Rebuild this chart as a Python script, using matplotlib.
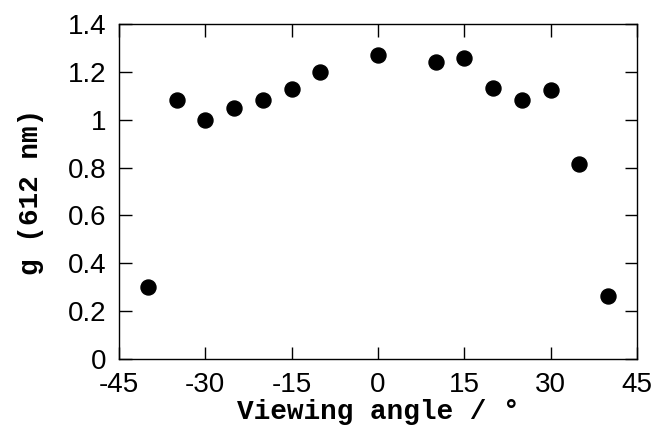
import matplotlib.pyplot as plt

# Viewing-angle dependence of g at 612 nm
angles = [-40, -35, -30, -25, -20, -15, -10, 0, 10, 15, 20, 25, 30, 35, 40]
g_values = [0.30, 1.084, 1.00, 1.051, 1.084, 1.13, 1.20, 1.272, 1.241, 1.259,
            1.133, 1.084, 1.123, 0.813, 0.264]

x_ticks = [-45, -30, -15, 0, 15, 30, 45]
y_ticks = [0, 0.2, 0.4, 0.6, 0.8, 1.0, 1.2, 1.4]
y_ticklabels = ['0', '0.2', '0.4', '0.6', '0.8', '1', '1.2', '1.4']

fig = plt.figure(figsize=(6.66, 4.32), dpi=100)
ax = fig.add_axes([119 / 666, 1 - 359 / 432, (637 - 119) / 666, (359 - 24) / 432])

ax.plot(angles, g_values, 'o', color='black', markersize=10.8, linestyle='none')

ax.set_xlim(-45, 45)
ax.set_ylim(0, 1.4)
ax.set_xticks(x_ticks)
ax.set_xticklabels([str(t) for t in x_ticks])
ax.set_yticks(y_ticks)
ax.set_yticklabels(y_ticklabels)

ax.tick_params(direction='in', length=9, width=1, top=True, right=True,
               labelsize=20)
ax.tick_params(axis='x', pad=9)
ax.tick_params(axis='y', pad=9)
for lbl in ax.get_xticklabels() + ax.get_yticklabels():
    lbl.set_family('Liberation Sans')
for sp in ax.spines.values():
    sp.set_linewidth(1)

ax.set_xlabel('Viewing angle / °', family='Liberation Mono', fontweight='bold',
              fontsize=20, labelpad=1)
ax.set_ylabel('g (612 nm)', family='Liberation Mono', fontweight='bold',
              fontsize=20, labelpad=17)

fig.savefig('out.png', dpi=100)
